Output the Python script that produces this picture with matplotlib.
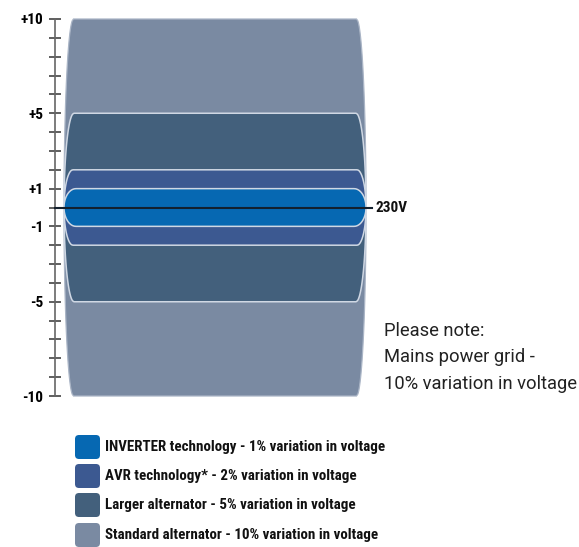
import numpy as np
import matplotlib
matplotlib.use("Agg")
import matplotlib.pyplot as plt
from matplotlib.patches import Polygon, FancyBboxPatch

# ---- data ----
variations = [10, 5, 2, 1]  # +/- % around nominal
colors = ["#7a8aa2", "#43607c", "#3c5991", "#0668b2"]
legend_labels = [
    "INVERTER technology - 1% variation in voltage",
    "AVR technology* - 2% variation in voltage",
    "Larger alternator - 5% variation in voltage",
    "Standard alternator - 10% variation in voltage",
]
legend_colors = ["#0668b2", "#3c5991", "#43607c", "#7a8aa2"]
tick_values = list(range(-10, 11))
labelled_ticks = {10: "+10", 5: "+5", 1: "+1", -1: "-1", -5: "-5", -10: "-10"}
nominal_label = "230V"
note_lines = ["Please note:", "Mains power grid -", "10% variation in voltage"]

W, H = 579, 547
cond = ["Roboto Condensed", "DejaVu Sans Condensed", "Liberation Sans Narrow",
        "Liberation Sans"]

fig = plt.figure(figsize=(W / 100, H / 100), dpi=100)

# main axes: x in pixels, y in percent
x0 = 54.5
ax = fig.add_axes([x0 / W, (H - 396) / H, 1 - x0 / W, (396 - 19) / H])
ax.set_xlim(x0, W)
ax.set_ylim(-10, 10)
for s in ["top", "right", "bottom"]:
    ax.spines[s].set_visible(False)
ax.spines["left"].set_color("#666666")
ax.spines["left"].set_linewidth(1.2)
ax.set_xticks([])
ax.set_yticks(tick_values)
ax.set_yticklabels([labelled_ticks.get(v, "") for v in tick_values],
                   family=cond, fontweight="bold", fontsize=11)
ax.tick_params(axis="y", direction="inout", length=8, width=1.1,
               color="#333333", pad=4)
ax.patch.set_alpha(0)

# barrel shaped bands
x_left, x_right = 64, 366
bulges = {10: 9.5, 5: 10, 2: 9, 1: 12}
for v, c in zip(variations, colors):
    b = bulges[v]
    y = np.linspace(-v, v, 200)
    off = b * (1 - np.sqrt(np.clip(1 - (y / v) ** 2, 0, 1)))
    xs = np.concatenate([x_right - off, (x_left + off)[::-1]])
    ys = np.concatenate([y, y[::-1]])
    ec = "#aab5c6" if v == 10 else "#d0d8e4"
    ax.add_patch(Polygon(np.column_stack([xs, ys]), closed=True, fc=c,
                         ec=ec, lw=0.9 if v == 10 else 1.1, clip_on=False))

# nominal line
ax.plot([x0, 372], [0, 0], color="#13202e", lw=1.5, clip_on=False, zorder=5)
ax.text(376, 0, nominal_label, family=cond, fontweight="bold", fontsize=11,
        va="center", ha="left", color="#111111")

# note text
for i, line in enumerate(note_lines):
    ax.text(384, -6.55 - i * 1.4, line, family=["Roboto", "DejaVu Sans"],
            fontsize=13.2, va="center", ha="left", color="#222222")

# legend in pixel coordinates
lg = fig.add_axes([0, 0, 1, 1])
lg.set_xlim(0, W)
lg.set_ylim(H, 0)
lg.axis("off")
row_y = [447, 476, 505, 535]
for yy, lab, c in zip(row_y, legend_labels, legend_colors):
    lg.add_patch(FancyBboxPatch((75, yy - 12), 25, 24,
                                boxstyle="round,pad=0,rounding_size=4",
                                fc=c, ec="none"))
    lg.text(105, yy, lab, family=cond, fontweight="bold", fontsize=10.8,
            va="center", ha="left", color="#111111")

fig.savefig("out.png", dpi=100)
